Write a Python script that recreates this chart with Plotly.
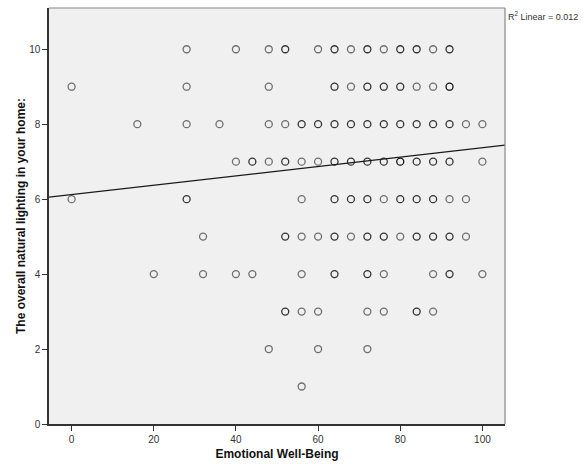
import plotly.graph_objects as go

# ---- data ----
y_levels = [10, 9, 8, 7, 6, 5, 4, 3, 2, 1]
x_by_level = [
    [28, 40, 48, 52, 60, 64, 68, 72, 76, 80, 84, 88, 92],
    [0, 28, 48, 64, 68, 72, 76, 80, 84, 88, 92],
    [16, 28, 36, 48, 52, 56, 60, 64, 68, 72, 76, 80, 84, 88, 92, 96, 100],
    [40, 44, 48, 52, 56, 60, 64, 68, 72, 76, 80, 84, 88, 92, 100],
    [0, 28, 56, 64, 68, 72, 76, 80, 84, 88, 92, 96],
    [32, 52, 56, 60, 64, 68, 72, 76, 80, 84, 88, 92, 96],
    [20, 32, 40, 44, 56, 64, 72, 76, 88, 92, 100],
    [52, 56, 60, 72, 76, 84, 88],
    [48, 60, 72],
    [56],
]
# estimated overlap count (darker circle = more cases)
count_by_level = [
    [1, 1, 1, 2, 1, 2, 1, 2, 1, 2, 2, 1, 2],
    [1, 1, 1, 2, 1, 2, 2, 2, 1, 1, 3],
    [1, 1, 1, 1, 1, 2, 2, 2, 2, 2, 2, 2, 2, 2, 2, 1, 1],
    [1, 2, 1, 2, 1, 1, 2, 2, 2, 2, 3, 2, 2, 2, 1],
    [1, 2, 1, 2, 2, 2, 1, 2, 2, 2, 1, 1],
    [1, 2, 1, 1, 2, 1, 2, 2, 1, 2, 2, 2, 1],
    [1, 1, 1, 1, 1, 2, 2, 1, 1, 2, 1],
    [2, 1, 1, 1, 1, 2, 1],
    [1, 1, 1],
    [1],
]
fit_intercept = 6.12
fit_slope = 0.0125
r2_label = "R<sup>2</sup> Linear = 0.012"
x_title = "Emotional Well-Being"
y_title = "The overall natural lighting in your home:"
x_range = [-5.5, 105.5]
y_range = [0, 11.1]

# ---- build ----
xs, ys, cols = [], [], []
shade = {1: "#6e6e6e", 2: "#333333", 3: "#111111"}
for yv, xl, cl in zip(y_levels, x_by_level, count_by_level):
    for xv, c in zip(xl, cl):
        xs.append(xv)
        ys.append(yv)
        cols.append(shade[c])

fig = go.Figure()
fig.add_trace(go.Scatter(
    x=xs, y=ys, mode="markers",
    marker=dict(symbol="circle-open", size=7, color=cols, line=dict(width=1.3)),
    hoverinfo="x+y", showlegend=False,
))
fig.add_trace(go.Scatter(
    x=x_range,
    y=[fit_intercept + fit_slope * v for v in x_range],
    mode="lines", line=dict(color="#1a1a1a", width=1.2),
    hoverinfo="skip", showlegend=False,
))

fig.update_layout(
    width=587, height=470,
    margin=dict(l=49, r=82, t=8, b=46),
    paper_bgcolor="white", plot_bgcolor="#f0f0f0",
    font=dict(family="Liberation Sans, Arial, sans-serif", size=10, color="#333333"),
    xaxis=dict(
        range=x_range, tickvals=[0, 20, 40, 60, 80, 100],
        showgrid=False, zeroline=False,
        showline=True, linecolor="#333333", linewidth=1.5,
        ticks="outside", ticklen=5, tickcolor="#333333", tickwidth=1,
        title=dict(text="<b>" + x_title + "</b>", font=dict(size=12, color="#111111"), standoff=6),
        tickfont=dict(size=10, color="#333333"),
    ),
    yaxis=dict(
        range=y_range, tickvals=[0, 2, 4, 6, 8, 10],
        showgrid=False, zeroline=False,
        showline=True, linecolor="#333333", linewidth=1.5,
        ticks="outside", ticklen=5, tickcolor="#333333", tickwidth=1,
        title=dict(text="<b>" + y_title + "</b>", font=dict(size=12, color="#111111"), standoff=1),
        tickfont=dict(size=10, color="#333333"),
    ),
    shapes=[
        dict(type="line", xref="paper", yref="paper", x0=0, x1=1, y0=1, y1=1,
             line=dict(color="#888888", width=1.2)),
        dict(type="line", xref="paper", yref="paper", x0=1, x1=1, y0=0, y1=1,
             line=dict(color="#888888", width=1.2)),
    ],
    annotations=[
        dict(text=r2_label, xref="paper", yref="paper", x=1.003, y=1.0,
             xanchor="left", yanchor="top", showarrow=False,
             font=dict(size=9, color="#333333")),
    ],
)

fig.write_html("out.html")
